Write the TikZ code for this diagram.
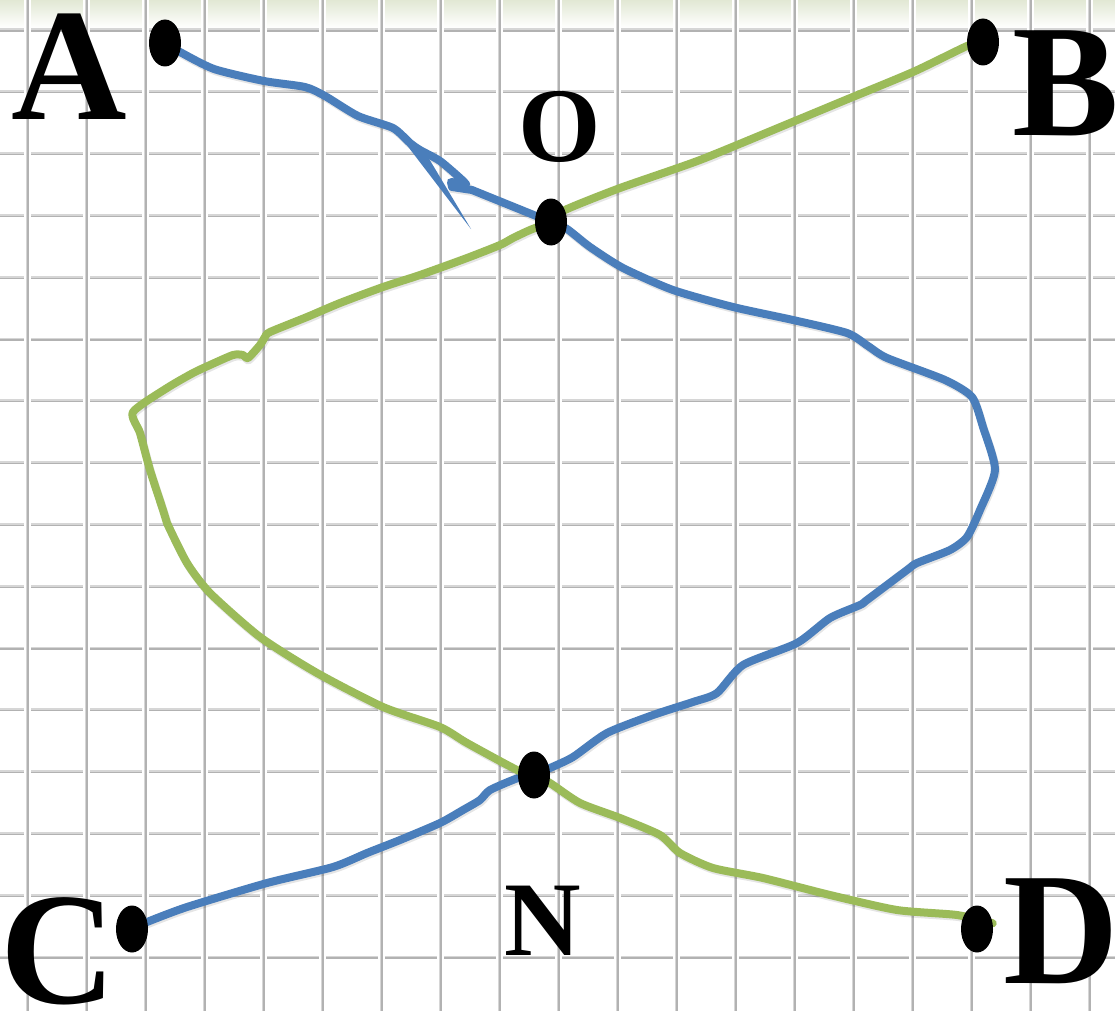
\documentclass[tikz,border=0pt]{standalone}
\usepackage{fontspec}
\setmainfont{Liberation Serif}
\usetikzlibrary{shapes.geometric}
\pgfdeclarelayer{background}
\pgfsetlayers{background,main}
\definecolor{lineblue}{RGB}{74,126,187}
\definecolor{linegreen}{RGB}{155,187,89}
\definecolor{gridgray}{RGB}{214,214,214}
\definecolor{griddark}{RGB}{178,178,178}
\definecolor{topgreen}{RGB}{226,232,212}
\begin{document}
\begin{tikzpicture}[x=1pt,y=-1pt,
  dot/.style={ellipse, fill=black, inner sep=0pt, minimum width=32pt, minimum height=47pt},
  biglabel/.style={font=\fontsize{160}{160}\selectfont\bfseries, inner sep=0pt, anchor=base, text height=106pt, text depth=0pt},
  midlabel/.style={font=\fontsize{106}{106}\selectfont\bfseries, inner sep=0pt, anchor=base, text height=70pt, text depth=0pt},
  curve/.style={line width=8pt, line join=round, line cap=round,
    preaction={draw=black, opacity=0.10, line width=8pt, transform canvas={shift={(1pt,-2pt)}}}},
  bluecurve/.style={curve, draw=lineblue},
  greencurve/.style={curve, draw=linegreen},
  gridsoft/.style={draw=gridgray, line width=3pt},
  gridcore/.style={draw=griddark, line width=1.1pt},
  gridhalo/.style={draw=white, line width=7pt}
]
\useasboundingbox (0,0) rectangle (1115,1011);

% points
\node[dot] (A) at (165,43) {};
\node[dot] (B) at (983,42) {};
\node[dot] (O) at (551,222) {};
\node[dot] (N) at (534,775) {};
\node[dot] (C) at (132,929) {};
\node[dot] (D) at (977,929) {};

% labels
\node[biglabel] (lA) at (69,120) {A};
\node[biglabel] (lB) at (1066,136) {B};
\node[biglabel] (lC) at (58,1003) {C};
\node[biglabel] (lD) at (1061,983) {D};
\node[midlabel] (lO) at (560,161) {O};
\node[midlabel] (lN) at (543,955) {N};

\begin{pgfonlayer}{background}
  \fill[white] (0,0) rectangle (1115,1011);
  \shade[top color=topgreen, bottom color=white] (0,0) rectangle (1115,28);
  % grid
  \foreach \k in {0,...,15} {
    \draw[gridsoft] (0,{30+61.8*\k}) -- (1115,{30+61.8*\k});
    \draw[gridcore] (0,{31+61.8*\k}) -- (1115,{31+61.8*\k});
  }
  \foreach \k in {0,...,18} {
    \draw[gridhalo] ({27+59*\k},0) -- ({27+59*\k},1011);
    \draw[gridsoft] ({27+59*\k},0) -- ({27+59*\k},1011);
    \draw[gridcore] ({28+59*\k},0) -- ({28+59*\k},1011);
  }

  % blue: A -> O
  \draw[bluecurve] plot[smooth, tension=0.4] coordinates {(A.center) (180,52) (214,69) (264,81) (305,87) (325,96) (358,116) (393,128) (410,143) (420,150) (440,161) (460,178) (466,184)}
     -- (451,182) -- (452,187) -- (472,190) -- (O.center);
  \fill[lineblue] (406,144) -- (425,152) -- (471,229) -- cycle;
  % blue: O -> N (right lobe)
  \draw[bluecurve] plot[smooth, tension=0.4] coordinates {(O.center) (567,229) (590,247) (623,268) (673,290) (733,307) (793,320) (847,333) (868,346) (887,358) (945,380) (972,397) (983,427) (995,470) (980,510) (967,537) (950,550) (917,563) (907,570) (867,600) (860,605) (830,618) (797,643) (743,665) (717,693) (693,702) (653,715) (607,733) (573,757) (550,768) (N.center)};
  % blue: N -> C
  \draw[bluecurve] plot[smooth, tension=0.4] coordinates {(N.center) (518,778) (490,790) (480,800) (463,810) (440,823) (400,840) (367,853) (333,867) (267,883) (187,907) (147,922) (C.center)};

  % green: B -> O
  \draw[greencurve] plot[smooth, tension=0.4] coordinates {(B.center) (967,46) (913,72) (843,101) (790,123) (700,160) (620,188) (565,210) (O.center)};
  % green: O -> N (left lobe)
  \draw[greencurve] plot[smooth, tension=0.4] coordinates {(O.center) (530,230) (513,238) (500,245) (467,258) (420,275) (383,287) (340,303) (307,317) (270,332) (265,337) (260,345) (248,358) (243,355) (233,355) (210,365) (193,373) (167,388) (133,412) (140,433) (150,470) (163,510) (167,523) (187,563) (210,593) (260,637) (317,673) (383,707) (440,727) (467,743) (517,770) (N.center)};
  % green: N -> D
  \draw[greencurve] plot[smooth, tension=0.4] coordinates {(N.center) (550,783) (580,803) (620,818) (660,835) (680,853) (713,868) (763,878) (830,895) (897,910) (957,915) (D.20)};
\end{pgfonlayer}
\end{tikzpicture}
\end{document}
